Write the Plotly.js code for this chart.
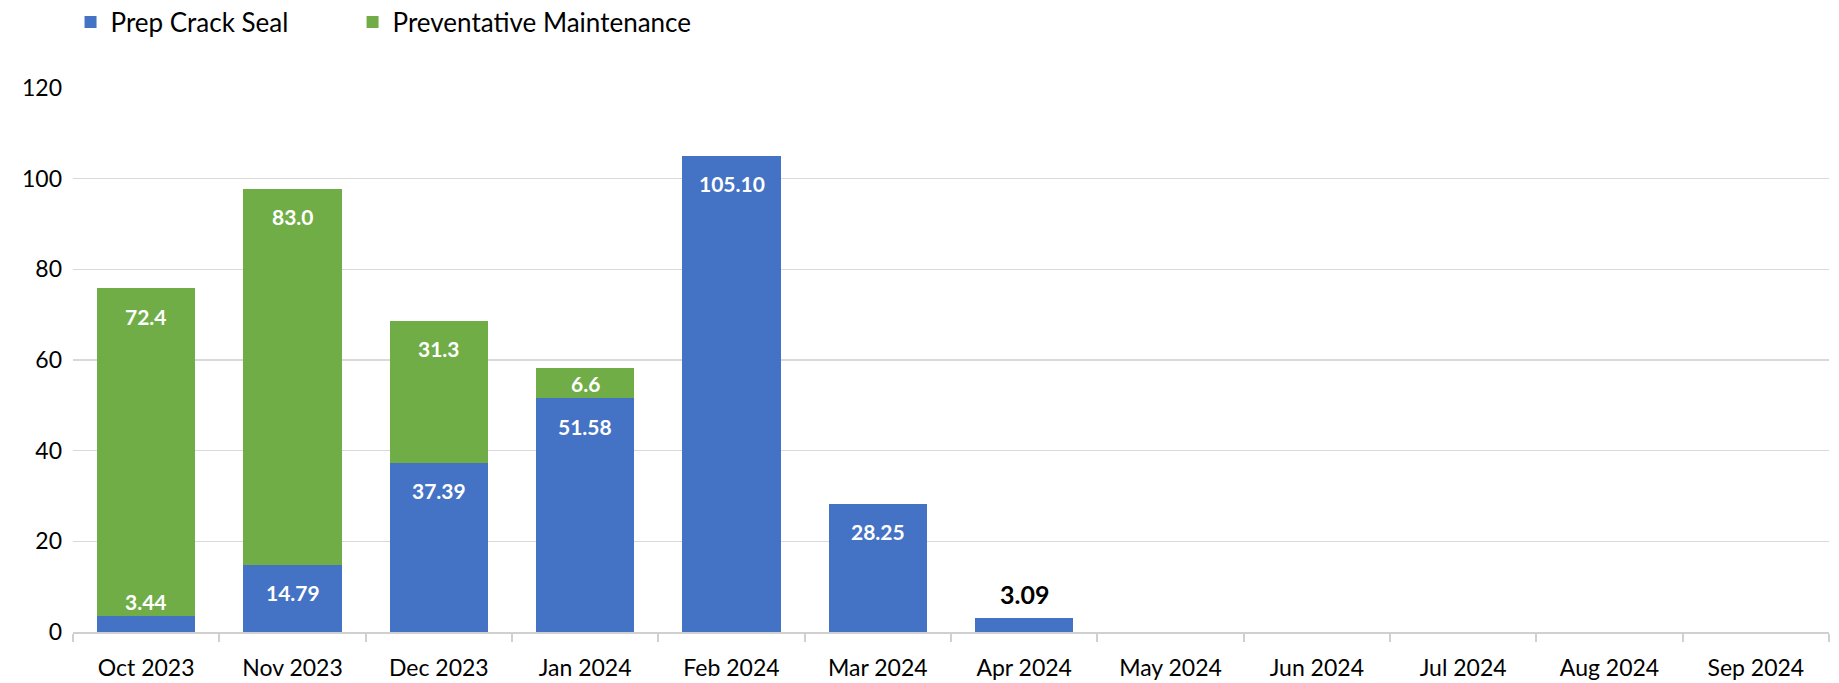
<!DOCTYPE html>
<html>
<head>
<meta charset="utf-8">
<script src="https://cdn.plot.ly/plotly-3.0.1.min.js"></script>
<style>
  html, body { margin: 0; padding: 0; background: #ffffff; }
  #chart { width: 1839px; height: 683px; }
</style>
</head>
<body>
<div id="chart"></div>
<script>
// ---- data ----
const months = ["Oct 2023", "Nov 2023", "Dec 2023", "Jan 2024", "Feb 2024", "Mar 2024",
                "Apr 2024", "May 2024", "Jun 2024", "Jul 2024", "Aug 2024", "Sep 2024"];
const prepCrackSeal = [3.44, 14.79, 37.39, 51.58, 105.10, 28.25, 3.09, null, null, null, null, null];
const preventativeMaintenance = [72.4, 83.0, 31.3, 6.6, null, null, null, null, null, null, null, null];
const seriesNames = ["Prep Crack Seal", "Preventative Maintenance"];
const yTicks = [0, 20, 40, 60, 80, 100, 120];

// ---- layout constants ----
const W = 1839, H = 683;
const M = { l: 73, r: 10, t: 88, b: 51, autoexpand: false };
const yMax = 120;
const pxPerUnit = (H - M.t - M.b) / yMax;
const FONT = "Lato, 'Open Sans', Arial, sans-serif";
const BLUE = "#4472C4", GREEN = "#70AD47";
const outsideLabelMonth = "Apr 2024"; // label drawn above bar in black

// ---- traces ----
const traces = [
  { type: "bar", name: seriesNames[0], x: months, y: prepCrackSeal,
    marker: { color: BLUE }, hoverinfo: "skip", legend: "legend" },
  { type: "bar", name: seriesNames[1], x: months, y: preventativeMaintenance,
    marker: { color: GREEN }, hoverinfo: "skip", legend: "legend2" }
];

// ---- data labels (Excel "inside end" style) ----
const annotations = [];
function addLabel(month, base, v, text) {
  const basePx = base * pxPerUnit;
  const topPx = (base + v) * pxPerUnit;
  const segPx = v * pxPerUnit;
  let centerPx = segPx >= 56 ? topPx - 28 : basePx + segPx / 2;
  centerPx = Math.max(centerPx, 31);
  annotations.push({
    x: month, y: centerPx / pxPerUnit, xref: "x", yref: "y",
    text: text, showarrow: false, yanchor: "middle",
    font: { family: FONT, size: 21, color: "#ffffff", weight: 700 }
  });
}
months.forEach((m, i) => {
  const p = prepCrackSeal[i];
  if (p != null) {
    if (m === outsideLabelMonth) {
      annotations.push({
        x: m, y: p, xref: "x", yref: "y", yshift: 24,
        text: p.toFixed(2), showarrow: false, yanchor: "middle",
        font: { family: FONT, size: 25, color: "#000000", weight: 700 }
      });
    } else {
      addLabel(m, 0, p, p.toFixed(2));
    }
  }
  const g = preventativeMaintenance[i];
  if (g != null) addLabel(m, p || 0, g, g.toFixed(1));
});

const legendBase = {
  orientation: "h", xanchor: "left",
  yref: "container", y: 1 - 22 / H, yanchor: "middle",
  font: { family: FONT, size: 26, color: "#000000" },
  bgcolor: "rgba(0,0,0,0)"
};

const layout = {
  width: W, height: H,
  margin: M,
  paper_bgcolor: "#ffffff", plot_bgcolor: "#ffffff",
  barmode: "stack",
  bargap: 0.33,
  font: { family: FONT, color: "#000000" },
  showlegend: true,
  legend: Object.assign({}, legendBase, { x: -0.0014 }),
  legend2: Object.assign({}, legendBase, { x: 0.1592 }),
  xaxis: {
    type: "category", categoryorder: "array", categoryarray: months,
    showline: true, linecolor: "#d0d0d0", linewidth: 2,
    ticks: "outside", tickson: "boundaries", ticklen: 8, tickcolor: "#d0d0d0", tickwidth: 2,
    ticklabelstandoff: 14,
    tickfont: { family: FONT, size: 23, color: "#000000" },
    showgrid: false, zeroline: false, fixedrange: true
  },
  yaxis: {
    range: [0, yMax], tickvals: yTicks, ticktext: yTicks.map(String),
    showgrid: true, gridcolor: "#d9d9d9", gridwidth: 1.5,
    zeroline: false, showline: false, ticks: "",
    ticklabelstandoff: 10,
    tickfont: { family: FONT, size: 23, color: "#000000" },
    fixedrange: true
  },
  annotations: annotations
};

Plotly.newPlot("chart", traces, layout, { displayModeBar: false, staticPlot: true });
</script>
</body>
</html>
